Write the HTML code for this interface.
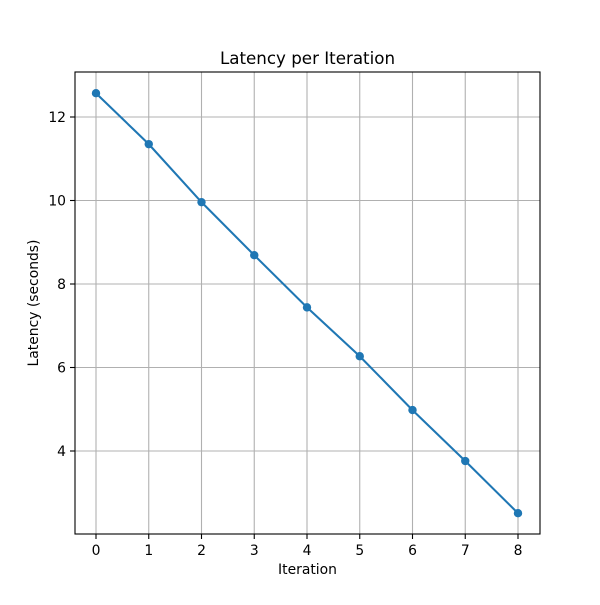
<!DOCTYPE html>
<html><head><meta charset="utf-8"><style>
body{margin:0;background:#fff;}
svg text{font-family:"DejaVu Sans","Liberation Sans",sans-serif;fill:#000;}
</style></head><body>
<svg id="chart" width="600" height="600" xmlns="http://www.w3.org/2000/svg">
<rect width="600" height="600" fill="#fff"/>
<g id="grid"></g>
<g id="ticks"></g>
<g id="series"></g>
<rect x="75" y="72" width="465" height="462" fill="none" stroke="#000" stroke-width="1.1"/>
<text x="307.5" y="64" text-anchor="middle" font-size="16.7">Latency per Iteration</text>
<text x="307.5" y="574" text-anchor="middle" font-size="13.9">Iteration</text>
<text x="38" y="303" text-anchor="middle" font-size="13.9" transform="rotate(-90 38 303)">Latency (seconds)</text>
</svg>
<script>
const iterations = [0,1,2,3,4,5,6,7,8];
const latency = [12.57,11.35,9.96,8.69,7.44,6.27,4.98,3.76,2.51];
const xTicks = [0,1,2,3,4,5,6,7,8];
const yTicks = [4,6,8,10,12];

const NS = "http://www.w3.org/2000/svg";
function xs(v){return 96 + v*52.75;}
function ys(v){return 618 - v*41.75;}
function mk(tag, attrs, parent){const e=document.createElementNS(NS,tag);for(const k in attrs)e.setAttribute(k,attrs[k]);parent.appendChild(e);return e;}
const grid=document.getElementById('grid'), ticks=document.getElementById('ticks'), series=document.getElementById('series');

xTicks.forEach(t=>{
  const x=xs(t);
  const g=mk('line',{x1:x,x2:x,y1:72,y2:534,stroke:'#b0b0b0','stroke-width':1.1},grid);
  
  
  const tk=mk('line',{x1:x,x2:x,y1:534,y2:539,stroke:'#000','stroke-width':1.1},ticks);
  
  
  const lb=mk('text',{x:x,y:555,'text-anchor':'middle','font-size':13.9},ticks);
  lb.textContent=t;
  
  
});
yTicks.forEach(t=>{
  const y=ys(t);
  const g=mk('line',{x1:75,x2:540,y1:y,y2:y,stroke:'#b0b0b0','stroke-width':1.1},grid);
  
  
  const tk=mk('line',{x1:70,x2:75,y1:y,y2:y,stroke:'#000','stroke-width':1.1},ticks);
  
  
  const lb=mk('text',{x:66,y:y+5,'text-anchor':'end','font-size':13.9},ticks);
  lb.textContent=t;
  
  
});
const pts=iterations.map((v,i)=>xs(v)+','+ys(latency[i])).join(' ');
const line=mk('polyline',{points:pts,fill:'none',stroke:'#1f77b4','stroke-width':2.08},series);


iterations.forEach((v,i)=>{
  const c=mk('circle',{cx:xs(v),cy:ys(latency[i]),r:4.2,fill:'#1f77b4'},series);
  
  
});
</script>
</body></html>
